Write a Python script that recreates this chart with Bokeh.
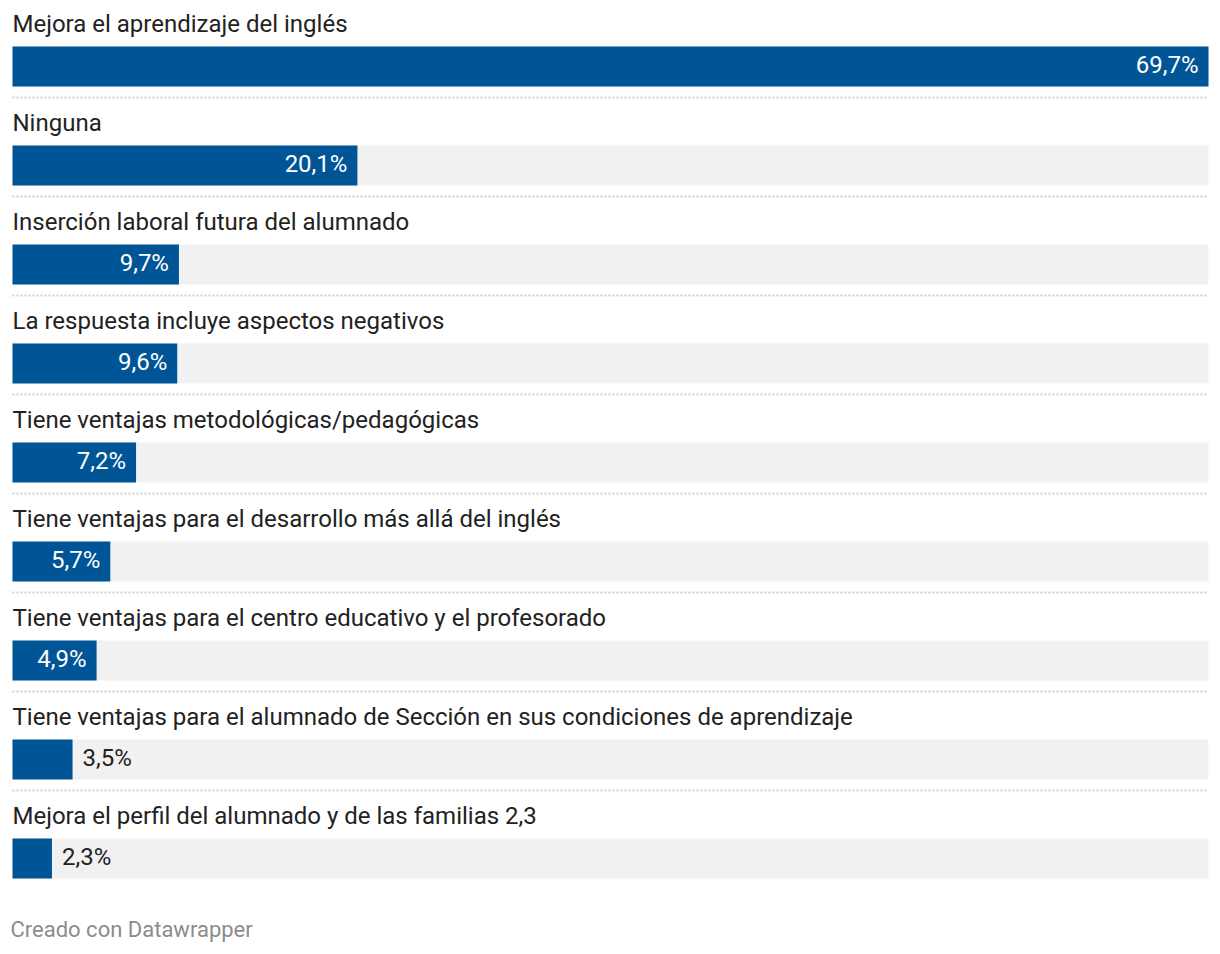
from bokeh.plotting import figure
from bokeh.models import Range1d, ColumnDataSource, Label
from bokeh.core.properties import value
from bokeh.embed import file_html
from bokeh.resources import INLINE

categories = [
    "Mejora el aprendizaje del inglés",
    "Ninguna",
    "Inserción laboral futura del alumnado",
    "La respuesta incluye aspectos negativos",
    "Tiene ventajas metodológicas/pedagógicas",
    "Tiene ventajas para el desarrollo más allá del inglés",
    "Tiene ventajas para el centro educativo y el profesorado",
    "Tiene ventajas para el alumnado de Sección en sus condiciones de aprendizaje",
    "Mejora el perfil del alumnado y de las familias 2,3",
]
values = [69.7, 20.1, 9.7, 9.6, 7.2, 5.7, 4.9, 3.5, 2.3]
value_labels = ["69,7%", "20,1%", "9,7%", "9,6%", "7,2%", "5,7%", "4,9%", "3,5%", "2,3%"]

W, H = 1216, 950
X0 = 12
BAR_PX = 1196
vmax = max(values)
per_px = vmax / BAR_PX
FONT = value("Roboto")

p = figure(width=W, height=H, output_backend="svg", toolbar_location=None,
           x_range=Range1d(-X0 * per_px, vmax + (W - X0 - BAR_PX) * per_px),
           y_range=Range1d(H, 0), min_border=0, outline_line_color=None)
p.axis.visible = False
p.grid.visible = False
p.background_fill_color = "white"
p.border_fill_color = "white"

pitch = 99
n = len(values)
tops = [46 + pitch * i for i in range(n)]
bar_h = 40
centers = [t + bar_h / 2 for t in tops]
label_y = [23 + pitch * i for i in range(n)]
val_y = [c - 1.5 for c in centers]

# background bars
p.hbar(y=centers, left=0, right=vmax, height=bar_h, color="#f1f1f1", line_color=None)
# value bars
p.hbar(y=centers, left=0, right=values, height=bar_h, color="#005596", line_color=None)

# separators
for i in range(n - 1):
    yy = tops[i] + bar_h + 11
    p.line([0, vmax], [yy, yy], line_color="#d0d0d0", line_width=2, line_dash="2 2")

# category labels
p.text(x=[0] * n, y=label_y, text=categories, text_font=FONT, text_font_size="24px",
       text_color="#222222", text_baseline="middle", text_align="left")

inside = [v >= 4.5 for v in values]
src_in = ColumnDataSource(dict(x=[v for v, k in zip(values, inside) if k],
                               y=[c for c, k in zip(val_y, inside) if k],
                               t=[t for t, k in zip(value_labels, inside) if k]))
src_out = ColumnDataSource(dict(x=[v for v, k in zip(values, inside) if not k],
                                y=[c for c, k in zip(val_y, inside) if not k],
                                t=[t for t, k in zip(value_labels, inside) if not k]))
p.text(x="x", y="y", text="t", source=src_in, text_font=FONT, text_font_size="24px",
       text_color="white", text_baseline="middle", text_align="right", x_offset=-10)
p.text(x="x", y="y", text="t", source=src_out, text_font=FONT, text_font_size="24px",
       text_color="#222222", text_baseline="middle", text_align="left", x_offset=10)

p.add_layout(Label(x=10, y=929, x_units="screen", y_units="data", text="Creado con Datawrapper",
                   text_font="Roboto", text_font_size="22px", text_color="#8c8c8c",
                   text_baseline="middle"))

open("out.html", "w").write(file_html(p, INLINE))
